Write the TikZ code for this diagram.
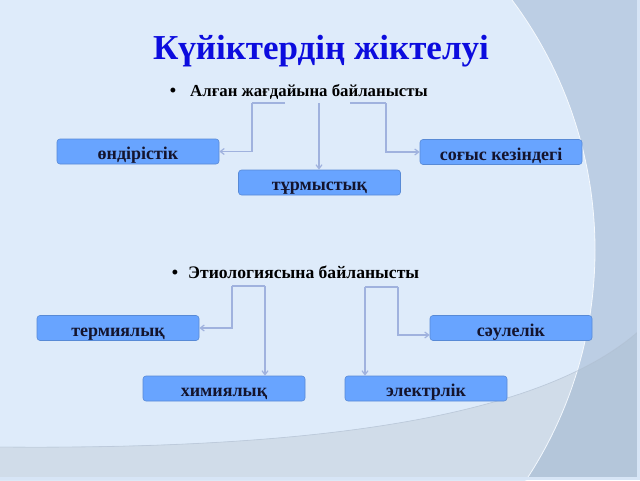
\documentclass[tikz,border=0pt]{standalone}
\usepackage{fontspec}
\setmainfont{Liberation Serif}
\usetikzlibrary{calc,arrows.meta}
\definecolor{bgmain}{RGB}{222,235,250}
\definecolor{bgdark}{RGB}{188,206,228}
\definecolor{bgband}{RGB}{208,220,233}
\definecolor{bgbanddark}{RGB}{180,198,218}
\definecolor{boxfill}{RGB}{104,164,255}
\definecolor{boxedge}{RGB}{88,138,214}
\definecolor{connc}{RGB}{160,178,222}
\definecolor{titleblue}{RGB}{12,12,222}
\definecolor{boxtext}{RGB}{20,20,45}
\tikzset{
  catbox/.style={rectangle, rounded corners=3pt, fill=boxfill, draw=boxedge, line width=0.6pt,
    minimum width=162pt, minimum height=25pt, inner sep=0pt, text height=16pt, text depth=0pt,
    font=\fontsize{18}{20}\selectfont\bfseries, text=boxtext},
  conn/.style={draw=connc, line width=1.2pt},
  connarrow/.style={conn, -{Straight Barb[length=4pt,width=6pt]}},
  bullettext/.style={anchor=base west, inner sep=0pt, text=black},
  bulletdot/.style={anchor=base, inner sep=0pt, font=\fontsize{18}{20}\selectfont\bfseries},
}
\begin{document}
\begin{tikzpicture}[x=1pt,y=-1pt]
\useasboundingbox (0,0) rectangle (640,480);
% background
\fill[bgmain] (0,0) rectangle (640,480);
\fill[bgdark] (480,0) rectangle (640,480);
\fill[bgmain] (177,250) circle (418);
\draw[white!70!bgmain, line width=0.8pt] (177,250) circle (418);
\begin{scope}
  \clip (0,447) .. controls (350,450) and (550,410) .. (640,330) -- (640,480) -- (0,480) -- cycle;
  \fill[bgbanddark] (0,300) rectangle (640,480);
  \fill[bgband] (177,250) circle (418);
  \draw[white!60!bgmain, line width=0.8pt] (177,250) circle (418);
\end{scope}
\draw[bgdark!80!gray, line width=0.8pt, opacity=0.5] (0,447) .. controls (350,450) and (550,410) .. (640,330);
\fill[bgmain!80!bgdark] (637,0) rectangle (640,480);
\fill[bgmain!80!bgdark] (0,477) rectangle (640,480);

% title
\node[font=\fontsize{35}{40}\selectfont\bfseries, text=titleblue, inner sep=0pt, anchor=base] (title) at (321,59) {Күйіктердің жіктелуі};

% bullets
\node[bullettext, font=\fontsize{16.8}{19}\selectfont\bfseries] (b1) at (190,96) {Алған жағдайына байланысты};
\node[bulletdot] (d1) at (173,96) {•};
\node[bullettext, font=\fontsize{17.6}{20}\selectfont\bfseries] (b2) at (188,278) {Этиологиясына байланысты};
\node[bulletdot] (d2) at (175,278) {•};

% boxes
\node[catbox] (n1) at (138,151.5) {өндірістік};
\node[catbox] (n2) at (319.5,182.5) {тұрмыстық};
\node[catbox] (n3) at (501,152) {соғыс кезіндегі};
\node[catbox] (n4) at (118,328) {термиялық};
\node[catbox] (n5) at (224,388.5) {химиялық};
\node[catbox] (n6) at (511,328) {сәулелік};
\node[catbox] (n7) at (426,388.5) {электрлік};

% connector points
\coordinate (c1a) at (285,103);
\coordinate (k1a) at (252,103);
\coordinate (c1b) at (319,103);
\coordinate (c1c) at (350,103);
\coordinate (k1c) at (386,103);
\coordinate (k2a) at (232,286);
\coordinate (k2b) at (265,286);
\coordinate (k3a) at (398,287);
\coordinate (k3b) at (365,287);

% connectors
\draw[conn] (c1a) -- (k1a);
\draw[connarrow] (k1a) |- (n1.east);
\draw[connarrow] (c1b) -- (c1b |- n2.north);
\draw[conn] (c1c) -- (k1c);
\draw[connarrow] (k1c) |- (n3.west);

\draw[conn] (k2b) -- (k2a);
\draw[connarrow] (k2a) |- (n4.east);
\draw[connarrow] (k2b) -- (k2b |- n5.north);

\draw[conn] (k3b) -- (k3a);
\draw[connarrow] (k3a) |- ($(n6.west)+(0,7)$);
\draw[connarrow] (k3b) -- (k3b |- n7.north);
\end{tikzpicture}
\end{document}
